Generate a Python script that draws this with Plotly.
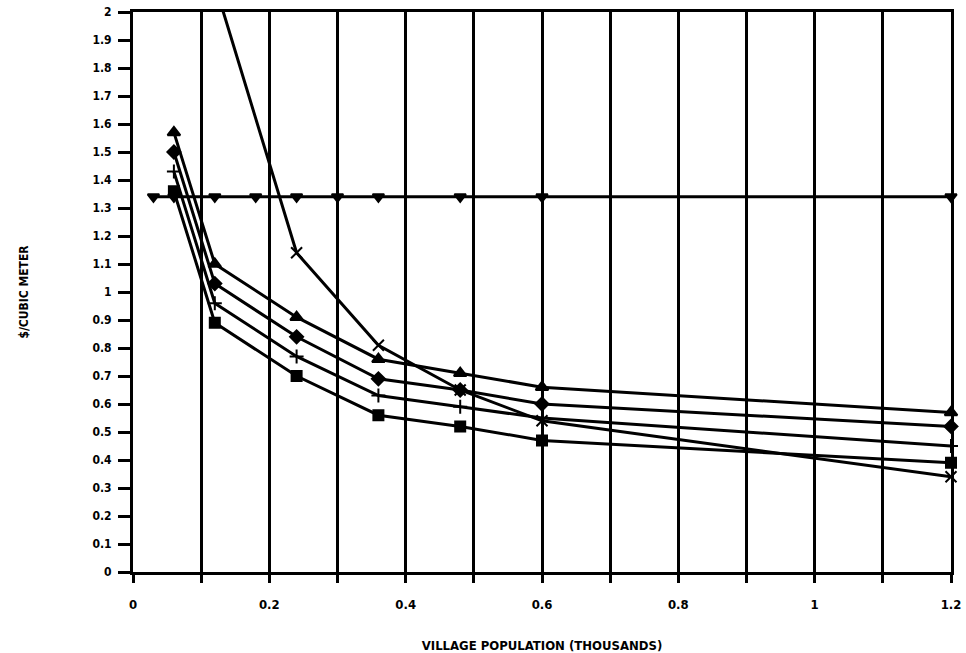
import plotly.graph_objects as go

# ---- data ----
pop_main = [0.06, 0.12, 0.24, 0.36, 0.48, 0.60, 1.20]
tri_vals = [1.57, 1.10, 0.91, 0.76, 0.71, 0.66, 0.57]
dia_vals = [1.50, 1.03, 0.84, 0.69, 0.65, 0.60, 0.52]
plus_vals = [1.43, 0.96, 0.77, 0.63, 0.59, 0.55, 0.45]
sq_vals = [1.36, 0.89, 0.70, 0.56, 0.52, 0.47, 0.39]

pop_x = [0.12, 0.24, 0.36, 0.48, 0.60, 1.20]
x_vals = [2.10, 1.14, 0.81, 0.65, 0.54, 0.34]

pop_flat = [0.03, 0.06, 0.12, 0.18, 0.24, 0.30, 0.36, 0.48, 0.60, 1.20]
flat_vals = [1.34, 1.34, 1.34, 1.34, 1.34, 1.34, 1.34, 1.34, 1.34, 1.34]

x_tickvals = [0, 0.2, 0.4, 0.6, 0.8, 1.0, 1.2]
x_ticktext = ["0", "0.2", "0.4", "0.6", "0.8", "1", "1.2"]
y_tickvals = [i / 10 for i in range(21)]
y_ticktext = ["0", "0.1", "0.2", "0.3", "0.4", "0.5", "0.6", "0.7", "0.8", "0.9",
              "1", "1.1", "1.2", "1.3", "1.4", "1.5", "1.6", "1.7", "1.8", "1.9", "2"]

FONT = "DejaVu Sans Condensed, Liberation Sans Narrow, Arial Narrow, sans-serif"
LINE = dict(color="black", width=3)

fig = go.Figure()

def add(xs, ys, symbol, size=10):
    fig.add_trace(go.Scatter(
        x=xs, y=ys, mode="lines+markers",
        line=LINE,
        marker=dict(symbol=symbol, size=size, color="black",
                    line=dict(color="black", width=2)),
        cliponaxis=False, showlegend=False))

add(pop_flat, flat_vals, "triangle-down", 10)
add(pop_x, x_vals, "x-thin", 11)
add(pop_main, tri_vals, "triangle-up", 11)
add(pop_main, dia_vals, "diamond", 10)
add(pop_main, plus_vals, "cross-thin", 10)
add(pop_main, sq_vals, "square", 10)

fig.update_layout(
    width=966, height=653,
    margin=dict(l=133, r=15, t=12, b=81),
    paper_bgcolor="white", plot_bgcolor="white",
    font=dict(family=FONT, size=12, color="black", weight="bold"),
)

fig.update_xaxes(
    range=[0, 1.2],
    tickvals=x_tickvals, ticktext=x_ticktext,
    ticks="outside", ticklen=8, tickwidth=2.5, tickcolor="black",
    showgrid=True, gridcolor="black", gridwidth=2.5,
    minor=dict(dtick=0.1, tick0=0, showgrid=True, gridcolor="black", gridwidth=2.5,
               ticks="outside", ticklen=8, tickwidth=2.5, tickcolor="black"),
    showline=True, linecolor="black", linewidth=3, mirror=True,
    zeroline=False,
    ticklabelstandoff=10,
    tickfont=dict(family=FONT, size=13, color="black", weight="bold"),
    title=dict(text="VILLAGE POPULATION (THOUSANDS)", standoff=32,
               font=dict(family=FONT, size=13, color="black", weight="bold")),
    automargin=False,
)

fig.update_yaxes(
    range=[0, 2],
    tickvals=y_tickvals, ticktext=y_ticktext,
    ticks="outside", ticklen=12, tickwidth=2.5, tickcolor="black",
    showgrid=False, zeroline=False,
    showline=True, linecolor="black", linewidth=3, mirror=True,
    ticklabelstandoff=4,
    tickfont=dict(family=FONT, size=12, color="black", weight="bold"),
    title=dict(text="$/CUBIC METER", standoff=62,
               font=dict(family=FONT, size=12, color="black", weight="bold")),
    automargin=False,
)

fig.write_html("out.html")
